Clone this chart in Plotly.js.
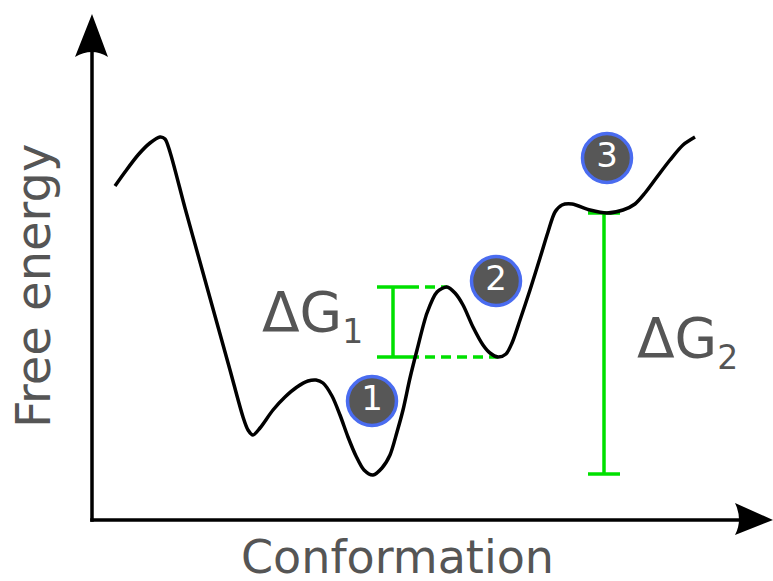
<!DOCTYPE html>
<html>
<head>
<meta charset="utf-8">
<script src="https://cdn.plot.ly/plotly-3.0.1.min.js"></script>
<style>html,body{margin:0;padding:0;background:#fff;}#chart{width:773px;height:581px;}</style>
</head>
<body>
<div id="chart"></div>
<script>
// Free-energy landscape (schematic), x = conformation, y = free energy
const conformation = [23,33,46,58,68,73,78,93,108,123,138,151,156,161,168,181,193,205,216,224,231,240,248,256,264,272,281,290,298,305,311,318,325,335,345,355,363,371,381,391,398,406,414,420,428,438,448,456,463,470,480,498,515,531,543,553,565,578,591,603];
const freeEnergy   = [334,348,365,377,383,381,368,312,258,204,150,103,90,85,92,110,123,133,139,140,137,124,105,83,64,50,45,52,65,88,110,142,170,207,228,233,227,215,193,175,167,163,166,177,200,230,262,288,308,315,316,310,307,310,316,327,343,360,375,383];

// numbered states
const stateLabels = ['1','2','3'];
const stateX = [280,404,515];
const stateY = [119,239,362];

// free-energy differences
const deltaGMain   = ['ΔG','ΔG'];
const deltaGSub    = ['1','2'];
const deltaGX      = [301,512];
const deltaGLow    = [163,46];
const deltaGHigh   = [233,307];
const dashTopEnd   = [355,null];   // barrier position for ΔG1 guide
const dashLowEnd   = [406,null];   // well position for ΔG1 guide
const labelX       = [220,595];
const labelY       = [205,179];

const axisTitles = {x:'Conformation', y:'Free energy'};

const green = '#00e000';
const grey = '#555555';
const capHalf = 16;

const traces = [];
for (let i=0;i<deltaGX.length;i++){
  if (dashTopEnd[i]!==null){
    traces.push({x:[deltaGX[i]+capHalf, dashTopEnd[i]], y:[deltaGHigh[i],deltaGHigh[i]], mode:'lines',
      line:{color:green,width:3.5,dash:'10px,6px'}, hoverinfo:'skip'});
  }
  if (dashLowEnd[i]!==null){
    traces.push({x:[deltaGX[i]+capHalf, dashLowEnd[i]], y:[deltaGLow[i],deltaGLow[i]], mode:'lines',
      line:{color:green,width:3.5,dash:'10px,6px'}, hoverinfo:'skip'});
  }
  traces.push({x:[deltaGX[i],deltaGX[i]], y:[deltaGLow[i],deltaGHigh[i]], mode:'lines',
    line:{color:green,width:3.5}, hoverinfo:'skip'});
  traces.push({x:[deltaGX[i]-capHalf,deltaGX[i]+capHalf], y:[deltaGLow[i],deltaGLow[i]], mode:'lines',
    line:{color:green,width:3.5}, hoverinfo:'skip'});
  traces.push({x:[deltaGX[i]-capHalf,deltaGX[i]+capHalf], y:[deltaGHigh[i],deltaGHigh[i]], mode:'lines',
    line:{color:green,width:3.5}, hoverinfo:'skip'});
}
traces.push({x:conformation, y:freeEnergy, mode:'lines',
  line:{color:'#000',width:3.5,shape:'spline',smoothing:0.8}, hoverinfo:'skip'});
traces.push({x:stateX, y:stateY, mode:'markers+text', text:stateLabels, textposition:'middle center',
  textfont:{family:'DejaVu Sans',size:34,color:'#ffffff'},
  marker:{size:49,color:'#575757',line:{color:'#4a6cf0',width:3.5}}, hoverinfo:'skip'});

const annotations = deltaGMain.map((t,i)=>({x:labelX[i], y:labelY[i], xref:'x', yref:'y',
  text: t + '<sub><span style="font-size:33px">' + deltaGSub[i] + '</span></sub>', showarrow:false,
  xanchor:'center', yanchor:'middle', font:{family:'DejaVu Sans',size:55,color:grey}}));
annotations.push({x:305, y:-37, xref:'x', yref:'y', text:axisTitles.x, showarrow:false,
  xanchor:'center', yanchor:'middle', font:{family:'DejaVu Sans',size:46,color:grey}});
annotations.push({x:-59, y:234, xref:'x', yref:'y', text:axisTitles.y, showarrow:false, textangle:-90,
  xanchor:'center', yanchor:'middle', font:{family:'DejaVu Sans',size:48,color:grey}});

const shapes = [
  {type:'line', xref:'x', yref:'y', x0:-1.75, y0:0, x1:648, y1:0, line:{color:'#000',width:3.5}},
  {type:'line', xref:'x', yref:'y', x0:0, y0:-1.75, x1:0, y1:468, line:{color:'#000',width:3.5}},
  {type:'path', xref:'x', yref:'y', path:'M0,506 L16,463 Q0,473 -17,463 Z', fillcolor:'#000', line:{width:0}},
  {type:'path', xref:'x', yref:'y', path:'M681,0 L643,17 Q651,0 643,-15 Z', fillcolor:'#000', line:{width:0}}
];

const layout = {
  width:773, height:581,
  margin:{l:0,r:0,t:0,b:0},
  paper_bgcolor:'#fff', plot_bgcolor:'#fff',
  showlegend:false,
  xaxis:{range:[-92,681], visible:false, fixedrange:true},
  yaxis:{range:[-61,520], visible:false, fixedrange:true},
  shapes:shapes,
  annotations:annotations
};
Plotly.newPlot('chart', traces, layout, {staticPlot:true, displayModeBar:false});
</script>
</body>
</html>
